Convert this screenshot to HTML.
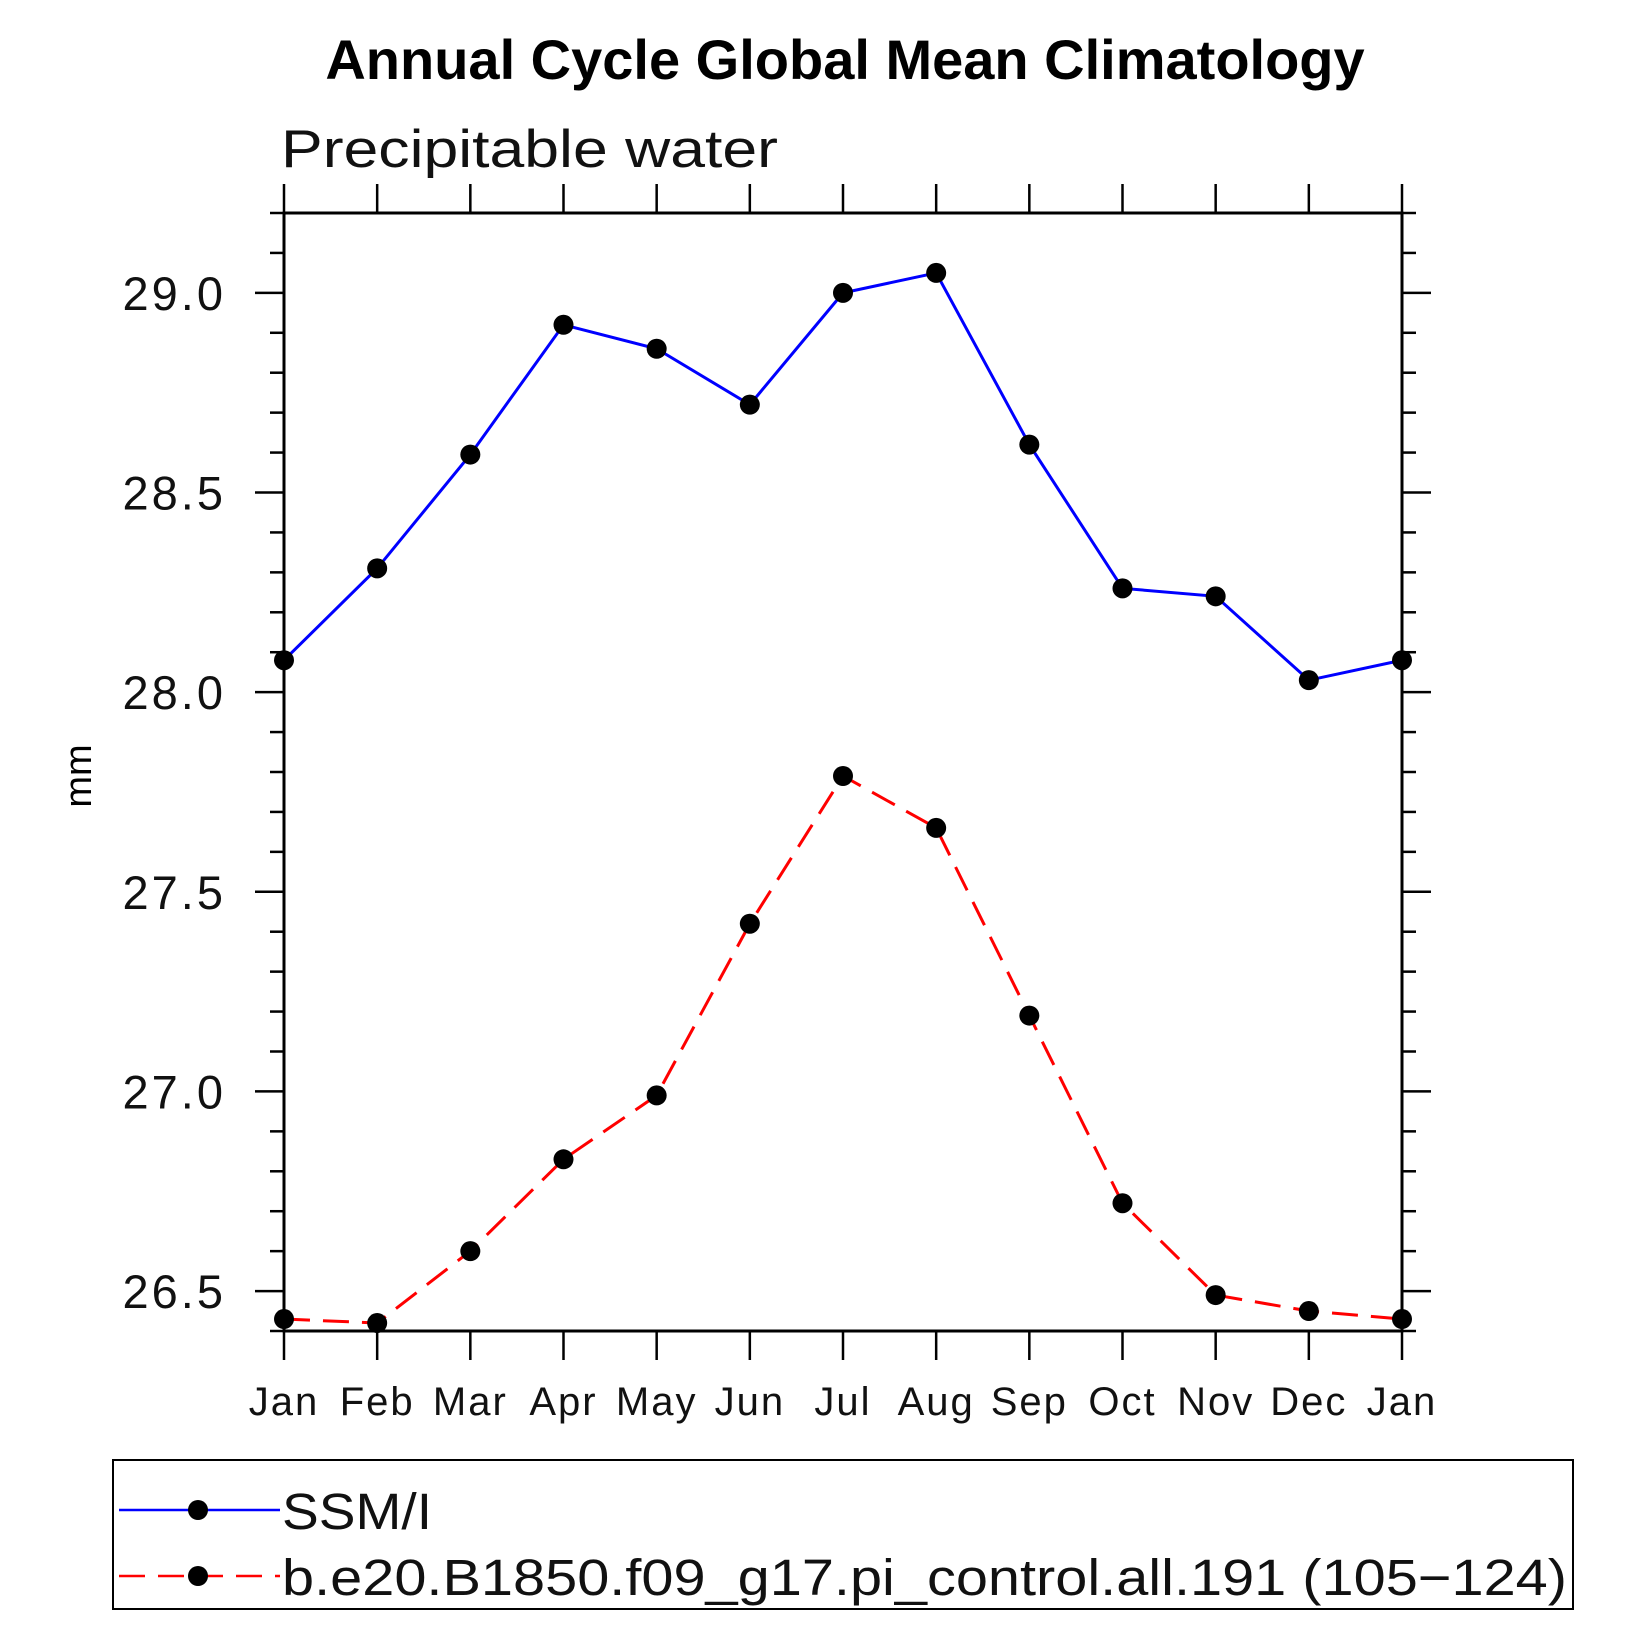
<!DOCTYPE html>
<html><head><meta charset="utf-8"><style>
html,body{margin:0;padding:0;background:#fff}
svg{display:block}
text{font-family:"Liberation Sans",sans-serif}
</style></head><body>
<svg id="chart" width="1647" height="1647" viewBox="0 0 1647 1647">
<text x="845" y="79" text-anchor="middle" font-size="56" font-weight="bold">Annual Cycle Global Mean Climatology</text>
<text x="281" y="167" font-size="53" fill="#111" textLength="497" lengthAdjust="spacingAndGlyphs">Precipitable water</text>
<text transform="translate(91,776) rotate(-90)" text-anchor="middle" font-size="38">mm</text>
<g id="axes"></g>
<g id="series"></g>
<g id="legend"></g>
</svg>
<script>
const months = ["Jan","Feb","Mar","Apr","May","Jun","Jul","Aug","Sep","Oct","Nov","Dec","Jan"];
const ssmi = [28.08,28.31,28.595,28.92,28.86,28.72,29.0,29.05,28.62,28.26,28.24,28.03,28.08];
const model = [26.43,26.42,26.60,26.83,26.99,27.42,27.79,27.66,27.19,26.72,26.49,26.45,26.43];
const yTicks = [26.5,27.0,27.5,28.0,28.5,29.0];
const yTickLabels = ["26.5","27.0","27.5","28.0","28.5","29.0"];
const yMin = 26.4, yMax = 29.2;
const seriesNames = ["SSM/I","b.e20.B1850.f09_g17.pi_control.all.191 (105\u2212124)"];

const L=284,R=1402,T=213,B=1331;
const NS="http://www.w3.org/2000/svg";
function xs(i){return L+(R-L)*i/(months.length-1);}
function ys(v){return B-(v-yMin)/(yMax-yMin)*(B-T);}
function mk(tag,attrs,parent){const e=document.createElementNS(NS,tag);for(const k in attrs)e.setAttribute(k,attrs[k]);parent.appendChild(e);return e;}
const axes=document.getElementById('axes');
const rect=mk('rect',{x:L,y:T,width:R-L,height:B-T,fill:'none',stroke:'#000','stroke-width':3},axes);


for(let k=0;;k++){const v=Math.round((yMin+k*0.1)*10)/10; if(v>yMax+1e-9)break;
  const y=ys(v); const major=yTicks.some(t=>Math.abs(t-v)<1e-6); const len=major?29:14;
  const t1=mk('line',{x1:L-len,x2:L,y1:y,y2:y,stroke:'#000','stroke-width':2.5},axes);
  
  
  const t2=mk('line',{x1:R,x2:R+len,y1:y,y2:y,stroke:'#000','stroke-width':2.5},axes);
  
  
}
yTicks.forEach((v,i)=>{
  const t=mk('text',{x:226,y:ys(v)+17,'text-anchor':'end','font-size':47,'letter-spacing':3,fill:'#111'},axes);
  t.textContent=yTickLabels[i];
  
  
});
months.forEach((m,i)=>{
  const x=xs(i);
  const a=mk('line',{x1:x,x2:x,y1:B,y2:B+29,stroke:'#000','stroke-width':2.5},axes);
  
  
  const b=mk('line',{x1:x,x2:x,y1:T-29,y2:T,stroke:'#000','stroke-width':2.5},axes);
  
  
  const t=mk('text',{x:x,y:1415,'text-anchor':'middle','font-size':40,'letter-spacing':2,fill:'#111'},axes);
  t.textContent=m;
  
  
});
const series=document.getElementById('series');
function drawSeries(vals,color,dash,name){
  const pts=vals.map((v,i)=>xs(i)+','+ys(v)).join(' ');
  const pl=mk('polyline',{points:pts,fill:'none',stroke:color,'stroke-width':3,'stroke-dasharray':dash},series);
  
  
  vals.forEach((v,i)=>{
    const c=mk('circle',{cx:xs(i),cy:ys(v),r:10,fill:'#000'},series);
    
    
  });
}
drawSeries(ssmi,'#0000ff','none','ssmi');
drawSeries(model,'#ff0000','26 13','model');
const lg=document.getElementById('legend');
const box=mk('rect',{x:113,y:1460,width:1460,height:149,fill:'none',stroke:'#000','stroke-width':2},lg);


[[ '#0000ff','none',1510],[ '#ff0000','26 13',1576]].forEach((s,i)=>{
  const l=mk('line',{x1:119,x2:280,y1:s[2],y2:s[2],stroke:s[0],'stroke-width':2.5,'stroke-dasharray':s[1]},lg);
  
  
  const c=mk('circle',{cx:198,cy:s[2],r:10,fill:'#000'},lg);
  
  
  const attrs={x:282,y:s[2]+19,'font-size':51,fill:'#111'};
  if(i===1){attrs.textLength=1285;attrs.lengthAdjust='spacingAndGlyphs';}
  else{attrs.textLength=150;attrs.lengthAdjust='spacingAndGlyphs';}
  const t=mk('text',attrs,lg);
  t.textContent=seriesNames[i];
  
  
});
</script>
</body></html>
